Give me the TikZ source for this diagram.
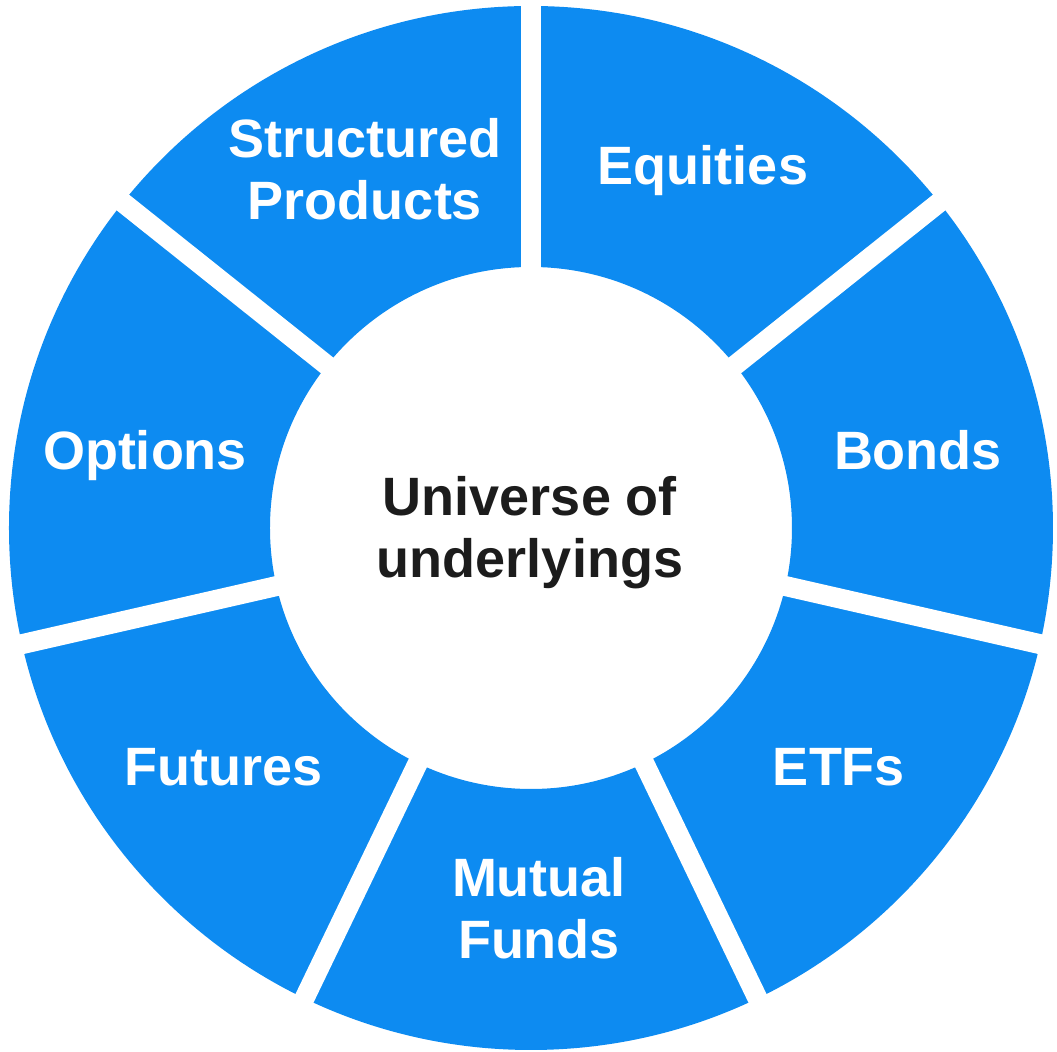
\documentclass[tikz,border=0pt]{standalone}
\usepackage{fontspec}
\setmainfont{Liberation Sans}
\usetikzlibrary{positioning}
\definecolor{ringblue}{HTML}{0D8BF1}
\definecolor{hubtext}{HTML}{1C1C1C}

\begin{document}
\begin{tikzpicture}[x=0.5pt,y=0.5pt,
  seglabel/.style={text=white,font=\bfseries\fontsize{27}{31}\selectfont,align=center,inner sep=0pt},
  gap/.style={draw=white,line width=10pt}]
  \useasboundingbox (-531,-524) rectangle (526,528);
  % ring and the seven cuts
  \fill[ringblue,even odd rule] (0,0) circle[radius=522] (0,0) circle[radius=261];
  \foreach \k in {0,...,6}
    \draw[gap] ({90-\k*360/7}:250) -- ({90-\k*360/7}:540);
  \node[seglabel,text=hubtext] (hub) at (-1,-5) {Universe of\\underlyings};
  % segment labels
  \node[seglabel] (equities)   at (172,357)  {Equities};
  \node[seglabel] (bonds)      at (387,78)   {Bonds};
  \node[seglabel] (etfs)       at (308,-239) {ETFs};
  \node[seglabel] (mutual)     at (8,-380)   {Mutual\\Funds};
  \node[seglabel] (futures)    at (-307,-239) {Futures};
  \node[seglabel] (options)    at (-386,72)  {Options};
  \node[seglabel] (structured) at (-166,359) {Structured\\Products};
\end{tikzpicture}
\end{document}
